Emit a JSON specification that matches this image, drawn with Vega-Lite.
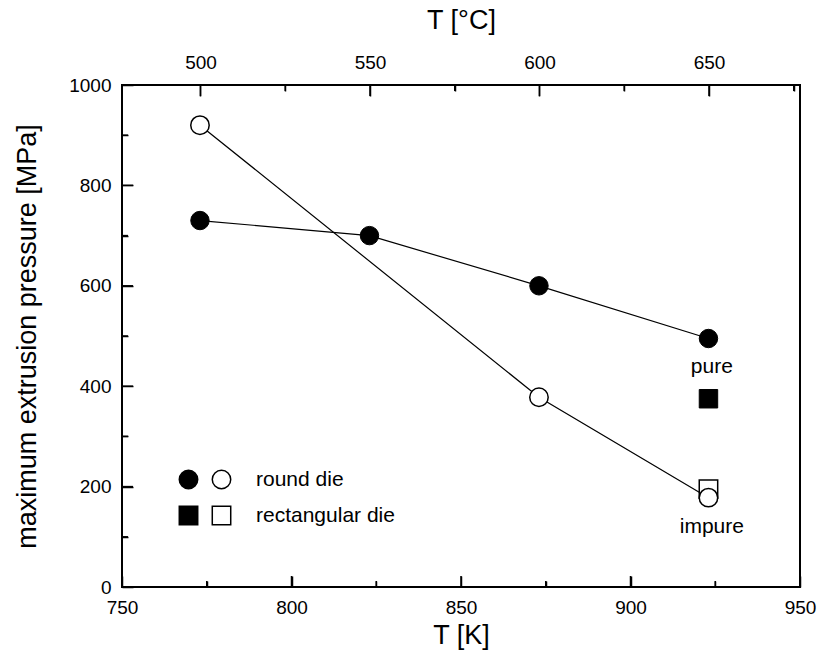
{
  "$schema": "https://vega.github.io/schema/vega-lite/v6.json",
  "width": 678,
  "height": 502,
  "autosize": {"type": "none"},
  "padding": {"left": 122, "top": 85, "right": 19, "bottom": 75},
  "background": "white",
  "datasets": {
    "pressure": [
      {"series": "pure", "die": "rectangular die", "K": 923, "P": 375},
      {"series": "pure", "die": "round die", "K": 773, "P": 730},
      {"series": "pure", "die": "round die", "K": 823, "P": 700},
      {"series": "pure", "die": "round die", "K": 873, "P": 600},
      {"series": "pure", "die": "round die", "K": 923, "P": 495},
      {"series": "impure", "die": "rectangular die", "K": 923, "P": 195},
      {"series": "impure", "die": "round die", "K": 773, "P": 920},
      {"series": "impure", "die": "round die", "K": 873, "P": 378},
      {"series": "impure", "die": "round die", "K": 923, "P": 178}
    ],
    "notes": [
      {"label": "pure", "K": 924, "P": 438},
      {"label": "impure", "K": 924, "P": 120}
    ],
    "celsius": [{"C": 500}, {"C": 550}, {"C": 600}, {"C": 650}],
    "tickvals": [
      {"side": "bottom", "kind": "major", "v": 800},
      {"side": "bottom", "kind": "major", "v": 850},
      {"side": "bottom", "kind": "major", "v": 900},
      {"side": "bottom", "kind": "minor", "v": 775},
      {"side": "bottom", "kind": "minor", "v": 825},
      {"side": "bottom", "kind": "minor", "v": 875},
      {"side": "bottom", "kind": "minor", "v": 925},
      {"side": "top", "kind": "major", "v": 500},
      {"side": "top", "kind": "major", "v": 550},
      {"side": "top", "kind": "major", "v": 600},
      {"side": "top", "kind": "major", "v": 650},
      {"side": "top", "kind": "minor", "v": 525},
      {"side": "top", "kind": "minor", "v": 575},
      {"side": "top", "kind": "minor", "v": 625},
      {"side": "top", "kind": "minor", "v": 675},
      {"side": "left", "kind": "major", "v": 200},
      {"side": "left", "kind": "major", "v": 400},
      {"side": "left", "kind": "major", "v": 600},
      {"side": "left", "kind": "major", "v": 800},
      {"side": "left", "kind": "minor", "v": 100},
      {"side": "left", "kind": "minor", "v": 300},
      {"side": "left", "kind": "minor", "v": 500},
      {"side": "left", "kind": "minor", "v": 700},
      {"side": "left", "kind": "minor", "v": 900}
    ]
  },
  "layer": [
    {
      "data": {"name": "pressure"},
      "transform": [{"filter": "datum.die === 'round die'"}],
      "mark": {"type": "line", "color": "black", "strokeWidth": 1.2},
      "encoding": {
        "x": {"field": "K", "type": "quantitative", "scale": {"domain": [750, 950], "nice": false, "zero": false},
          "axis": {"orient": "bottom", "values": [750, 800, 850, 900, 950], "offset": -11, "ticks": true, "tickColor": "black", "tickWidth": 1.5, "tickSize": 11, "labelPadding": 11, "title": "T [K]", "titlePadding": 5}},
        "y": {"field": "P", "type": "quantitative", "scale": {"domain": [0, 1000], "nice": false},
          "axis": {"orient": "left", "values": [0, 200, 400, 600, 800, 1000], "format": "d", "offset": -11, "ticks": true, "tickColor": "black", "tickWidth": 1.5, "tickSize": 11, "labelPadding": 11, "title": "maximum extrusion pressure [MPa]", "titlePadding": 27}},
        "detail": {"field": "series"}
      }
    },
    {
      "data": {"name": "tickvals"},
      "transform": [{"filter": "datum.side === 'bottom'"}],
      "mark": {"type": "point", "filled": false, "shape": "M0,0V-2", "color": "black", "strokeWidth": 1.5, "opacity": 1},
      "encoding": {
        "x": {"field": "v", "type": "quantitative", "scale": {"domain": [750, 950], "nice": false, "zero": false},
          "axis": {"orient": "bottom", "values": [775, 825, 875, 925], "offset": -6, "ticks": true, "tickColor": "black", "tickWidth": 1.5, "tickSize": 6, "labels": false, "title": null}},
        "y": {"datum": 0, "type": "quantitative", "scale": {"domain": [0, 1000], "nice": false}, "axis": null},
        "size": {"field": "kind", "type": "nominal", "scale": {"domain": ["major", "minor"], "range": [121, 36]}, "legend": null}
      }
    },
    {
      "data": {"name": "tickvals"},
      "transform": [{"filter": "datum.side === 'top'"}],
      "mark": {"type": "point", "filled": false, "shape": "M0,0V2", "color": "black", "strokeWidth": 1.5, "opacity": 1},
      "encoding": {
        "x": {"field": "v", "type": "quantitative", "scale": {"domain": [476.85, 676.85], "nice": false, "zero": false},
          "axis": {"orient": "top", "values": [525, 575, 625, 675], "offset": -6, "ticks": true, "tickColor": "black", "tickWidth": 1.5, "tickSize": 6, "labels": false, "title": null}},
        "y": {"datum": 1000, "type": "quantitative", "scale": {"domain": [0, 1000], "nice": false}, "axis": null},
        "size": {"field": "kind", "type": "nominal", "scale": {"domain": ["major", "minor"], "range": [121, 36]}, "legend": null}
      }
    },
    {
      "data": {"name": "tickvals"},
      "transform": [{"filter": "datum.side === 'left'"}],
      "mark": {"type": "point", "filled": false, "shape": "M0,0H2", "color": "black", "strokeWidth": 1.5, "opacity": 1},
      "encoding": {
        "x": {"datum": 750, "type": "quantitative", "scale": {"domain": [750, 950], "nice": false, "zero": false}, "axis": null},
        "y": {"field": "v", "type": "quantitative", "scale": {"domain": [0, 1000], "nice": false},
          "axis": {"orient": "left", "values": [100, 300, 500, 700, 900], "offset": -6, "ticks": true, "tickColor": "black", "tickWidth": 1.5, "tickSize": 6, "labels": false, "title": null}},
        "size": {"field": "kind", "type": "nominal", "scale": {"domain": ["major", "minor"], "range": [121, 36]}, "legend": null}
      }
    },
    {
      "data": {"name": "pressure"},
      "transform": [{"filter": "datum.series === 'impure'"}],
      "mark": {"type": "point", "filled": true, "fill": "white", "stroke": "black", "strokeWidth": 1.5, "size": 340, "opacity": 1},
      "encoding": {
        "x": {"field": "K", "type": "quantitative", "scale": {"domain": [750, 950], "nice": false, "zero": false}, "axis": null},
        "y": {"field": "P", "type": "quantitative", "scale": {"domain": [0, 1000], "nice": false}, "axis": null},
        "shape": {"field": "die", "type": "nominal",
          "scale": {"domain": ["round die", "rectangular die"], "range": ["circle", "square"]},
          "legend": {"orient": "none", "legendX": 89, "legendY": 384, "title": null, "symbolSize": 340,
            "labelFont": "Liberation Sans", "labelFontSize": 21, "labelColor": "black", "labelOffset": 24, "rowPadding": 11, "padding": 0,
            "encode": {"symbols": {"update": {"fill": {"value": "white"}, "stroke": {"value": "black"}, "strokeWidth": {"value": 1.5}, "opacity": {"value": 1}}}}}}
      }
    },
    {
      "data": {"name": "pressure"},
      "transform": [{"filter": "datum.series === 'pure'"}],
      "mark": {"type": "point", "filled": true, "fill": "black", "stroke": "black", "strokeWidth": 1, "size": 340, "opacity": 1},
      "encoding": {
        "x": {"field": "K", "type": "quantitative", "scale": {"domain": [750, 950], "nice": false, "zero": false}, "axis": null},
        "y": {"field": "P", "type": "quantitative", "scale": {"domain": [0, 1000], "nice": false}, "axis": null},
        "shape": {"field": "die", "type": "nominal",
          "scale": {"domain": ["round die", "rectangular die"], "range": ["circle", "square"]},
          "legend": {"orient": "none", "legendX": 56, "legendY": 384, "title": null, "symbolSize": 340,
            "labelExpr": "''", "labelOffset": 0, "labelFontSize": 21, "rowPadding": 11, "padding": 0,
            "encode": {"symbols": {"update": {"fill": {"value": "black"}, "stroke": {"value": "black"}, "strokeWidth": {"value": 1}, "opacity": {"value": 1}}}}}}
      }
    },
    {
      "data": {"name": "notes"},
      "mark": {"type": "text", "font": "Liberation Sans", "fontSize": 21, "color": "black"},
      "encoding": {
        "x": {"field": "K", "type": "quantitative", "scale": {"domain": [750, 950], "nice": false, "zero": false}, "axis": null},
        "y": {"field": "P", "type": "quantitative", "scale": {"domain": [0, 1000], "nice": false}, "axis": null},
        "text": {"field": "label"}
      }
    },
    {
      "data": {"name": "celsius"},
      "mark": {"type": "point", "opacity": 0},
      "encoding": {
        "x": {"field": "C", "type": "quantitative", "scale": {"domain": [476.85, 676.85], "nice": false, "zero": false},
          "axis": {"orient": "top", "values": [500, 550, 600, 650], "offset": -11, "ticks": true, "tickColor": "black", "tickWidth": 1.5, "tickSize": 11, "labelPadding": 13, "title": "T [°C]", "titlePadding": 19}}
      }
    }
  ],
  "resolve": {
    "scale": {"x": "independent", "y": "independent", "shape": "independent", "size": "independent"},
    "legend": {"shape": "independent"}
  },
  "config": {
    "view": {"stroke": "black", "strokeWidth": 2},
    "axis": {"domain": false, "grid": false, "zindex": 1, "labelColor": "black",
      "labelFont": "Liberation Sans", "labelFontSize": 19, "titleFont": "Liberation Sans", "titleFontSize": 27,
      "titleFontWeight": "normal", "titleColor": "black", "labelOverlap": false, "labelFlush": false},
    "legend": {"labelFont": "Liberation Sans", "labelColor": "black"}
  }
}
